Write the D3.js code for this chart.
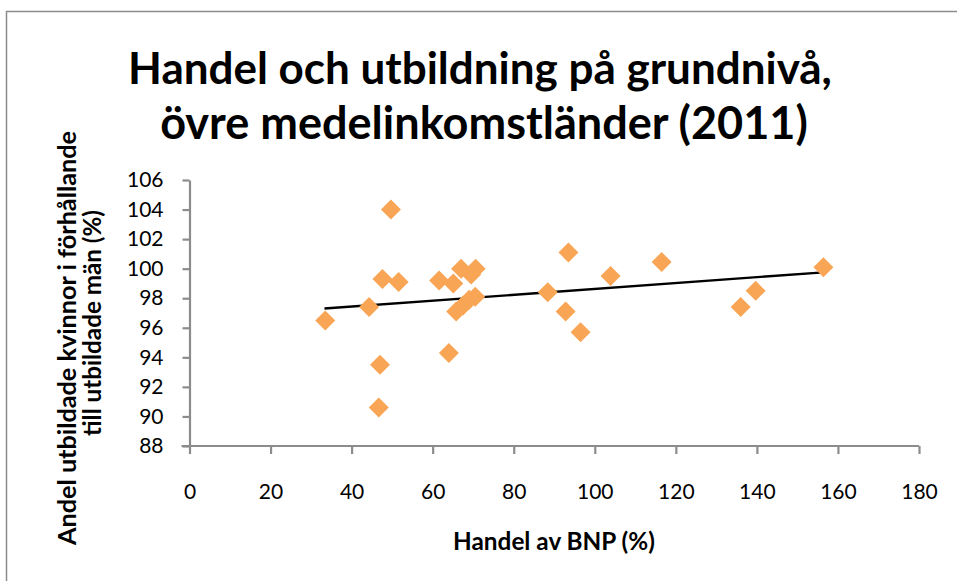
<!DOCTYPE html>
<html>
<head>
<meta charset="utf-8">
<script src="https://cdn.jsdelivr.net/npm/d3@7"></script>
<style>
  body { margin: 0; background: #fff; }
  text { font-family: Lato, "Open Sans", sans-serif; fill: #000; }
</style>
</head>
<body>
<svg id="chart" width="957" height="581"></svg>
<script>
// data: trade share of GDP (%) vs female/male ratio (%)
const tradeShare = [33.5, 44.3, 46.7, 47.0, 47.6, 49.7, 51.6, 61.6, 64.0, 65.1, 65.8, 67.0, 67.5, 69.0, 69.5, 70.5, 70.6, 88.4, 92.8, 93.5, 96.5, 103.9, 116.5, 136.0, 139.7, 156.4];
const genderRatio = [96.5, 97.4, 90.6, 93.5, 99.3, 104.0, 99.1, 99.2, 94.3, 99.0, 97.1, 100.0, 97.5, 97.9, 99.6, 98.1, 100.0, 98.4, 97.1, 101.1, 95.7, 99.5, 100.45, 97.4, 98.5, 100.1];
// linear trendline end points
const trendX = [33.3, 156.4];
const trendY = [97.3, 99.75];

const xTicks = [0, 20, 40, 60, 80, 100, 120, 140, 160, 180];
const yTicks = [88, 90, 92, 94, 96, 98, 100, 102, 104, 106];

const titleLines = ["Handel och utbildning på grundnivå,", "övre medelinkomstländer (2011)"];
const xTitle = "Handel av BNP (%)";
const yTitleLines = ["Andel utbildade kvinnor i förhållande", "till utbildade män (%)"];

const svg = d3.select("#chart");
const axisColor = "#8c8c8c";

// chart border (cut off on right and bottom)
svg.append("rect")
    .attr("x", 6.5).attr("y", 11.5)
    .attr("width", 1000).attr("height", 700)
    .attr("fill", "none")
    .attr("stroke", axisColor)
    .attr("stroke-width", 1.5);

const x = d3.scaleLinear().domain([0, 180]).range([189.5, 919]);
const y = d3.scaleLinear().domain([88, 106]).range([446, 180]);

// fit a text to a width by scaling its font size
function fitText(sel, targetWidth) {
    const fs = parseFloat(sel.attr("font-size"));
    const w = sel.node().getComputedTextLength();
    sel.attr("font-size", fs * targetWidth / w);
}

// title
const title = svg.append("g");
const t1 = title.append("text").attr("x", 480).attr("y", 84)
    .attr("text-anchor", "middle").attr("font-weight", "bold").attr("font-size", 40)
    .text(titleLines[0]);
fitText(t1, 704);
const t2 = title.append("text").attr("x", 484).attr("y", 139)
    .attr("text-anchor", "middle").attr("font-weight", "bold").attr("font-size", 40)
    .text(titleLines[1]);
fitText(t2, 648);

// axes
const yAxis = d3.axisLeft(y).tickValues(yTicks).tickSize(7).tickPadding(19).tickSizeOuter(0);
const xAxis = d3.axisBottom(x).tickValues(xTicks).tickSize(8).tickPadding(30).tickSizeOuter(0);

const gy = svg.append("g").attr("transform", `translate(${x(0)},0)`).call(yAxis);
const gx = svg.append("g").attr("transform", `translate(0,${y(88)})`).call(xAxis);

[gx, gy].forEach(g => {
    g.select(".domain").attr("stroke", axisColor).attr("stroke-width", 2.2);
    g.selectAll(".tick line").attr("stroke", axisColor).attr("stroke-width", 2.2);
    g.selectAll(".tick text")
        .attr("font-family", "Lato, sans-serif")
        .attr("font-size", 21)
        .attr("fill", "#000");
});
// extend x axis line a little to the left like the original
gx.select(".domain").attr("d", `M${x(0) - 8},0H${x(180)}`);

// axis titles
svg.append("text")
    .attr("x", 554).attr("y", 550)
    .attr("text-anchor", "middle").attr("font-weight", "bold").attr("font-size", 18)
    .text(xTitle)
    .call(s => fitText(s, 202));

// y title: two rotated lines placed by measured length
const yt1 = svg.append("text")
    .attr("font-weight", "bold").attr("font-size", 18)
    .attr("text-anchor", "start")
    .text(yTitleLines[0]);
fitText(yt1, 414);
const yt2 = svg.append("text")
    .attr("font-weight", "bold").attr("font-size", 18)
    .attr("text-anchor", "start")
    .text(yTitleLines[1]);
fitText(yt2, 226);

function placeVertical(sel, cx, cy) {
    const len = sel.node().getComputedTextLength();
    sel.attr("transform", `translate(${cx},${cy + len / 2}) rotate(-90)`);
}
placeVertical(yt1, 76, 338);
placeVertical(yt2, 101, 323);

// trendline
svg.append("line")
    .attr("x1", x(trendX[0])).attr("y1", y(trendY[0]))
    .attr("x2", x(trendX[1])).attr("y2", y(trendY[1]))
    .attr("stroke", "#000")
    .attr("stroke-width", 2.4);

// points as diamonds
const diamond = d3.symbol().type(d3.symbolSquare).size(200);
svg.append("g").selectAll("path")
    .data(tradeShare.map((v, i) => [v, genderRatio[i]]))
    .join("path")
    .attr("d", diamond)
    .attr("transform", d => `translate(${x(d[0])},${y(d[1])}) rotate(45)`)
    .attr("fill", "#f8a555");

// Excel draws the trendline above the markers
svg.select("line").raise();
</script>
</body>
</html>
